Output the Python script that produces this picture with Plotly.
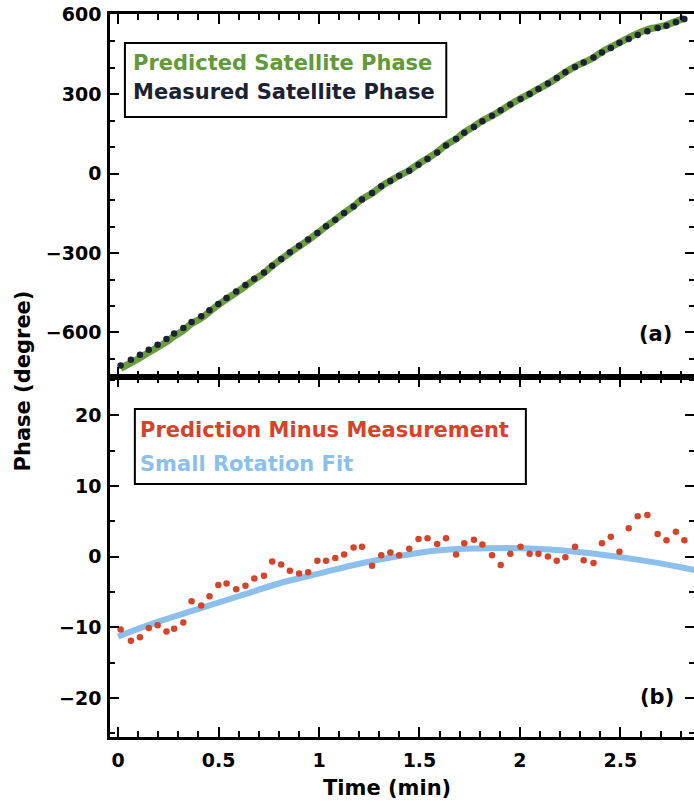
import plotly.graph_objects as go

# ---------------- data ----------------
time_min = [0.013, 0.064, 0.109, 0.153, 0.197, 0.241, 0.279, 0.325, 0.366, 0.414,
            0.455, 0.499, 0.540, 0.588, 0.634, 0.678, 0.726, 0.767, 0.812, 0.855,
            0.901, 0.946, 0.992, 1.035, 1.081, 1.125, 1.172, 1.214, 1.264, 1.310,
            1.355, 1.399, 1.449, 1.495, 1.540, 1.588, 1.632, 1.682, 1.723, 1.771,
            1.813, 1.861, 1.904, 1.952, 2.003, 2.048, 2.092, 2.139, 2.183, 2.226,
            2.274, 2.317, 2.366, 2.408, 2.452, 2.495, 2.541, 2.586, 2.634, 2.685,
            2.729, 2.776, 2.818]

measured_phase = [-725, -703, -684, -665, -646, -625, -604, -583, -560, -539,
                  -516, -492, -470, -445, -421, -397, -373, -348, -322, -297,
                  -272, -249, -224, -199, -174, -149, -124, -98, -73, -48,
                  -28, -8, 11, 34, 55, 80, 106, 131, 154, 176,
                  198, 219, 239, 261, 282, 301, 320, 340, 361, 383,
                  403, 420, 439, 458, 475, 494, 509, 524, 538, 550,
                  559, 572, 584]

residual = [-10.3, -11.9, -11.4, -10.1, -9.7, -10.6, -10.2, -9.3, -6.3, -6.9,
            -5.6, -4.0, -3.8, -4.6, -4.1, -3.1, -2.7, -0.7, -1.1, -2.0,
            -2.4, -2.2, -0.6, -0.6, -0.2, 0.3, 1.3, 1.4, -1.3, 0.2,
            0.6, 0.2, 1.1, 2.5, 2.6, 1.8, 2.6, 0.3, 1.9, 2.4,
            1.7, 0.2, -1.2, 0.4, 1.4, 0.4, 0.4, 0.0, -0.6, -0.1,
            1.4, -0.5, -0.9, 1.9, 2.8, 0.7, 4.0, 5.7, 5.9, 3.2,
            2.3, 3.5, 2.3]

predicted_phase = [m + r for m, r in zip(measured_phase, residual)]

fit_time = [0.0, 0.2, 0.4, 0.6, 0.8, 1.0, 1.2, 1.4, 1.6, 1.8, 2.0, 2.2, 2.4, 2.6, 2.8, 2.87]
fit_value = [-11.3, -9.2, -7.4, -5.6, -3.8, -2.4, -1.0, 0.1, 0.9, 1.15, 1.2, 0.9, 0.3, -0.5, -1.5, -1.9]

top_yticks = [-600, -300, 0, 300, 600]
bot_yticks = [-20, -10, 0, 10, 20]
x_ticks = [0, 0.5, 1, 1.5, 2, 2.5]
x_ticklabels = ["0", "0.5", "1", "1.5", "2", "2.5"]

names = ["Predicted Satellite Phase", "Measured Satellite Phase",
         "Prediction Minus Measurement", "Small Rotation Fit"]
colors = ["#62993a", "#1b2232", "#d4442a", "#8cbfeb"]

# ---------------- figure ----------------
W, H = 700, 804
L, R, T, B = 110, 3, 14, 67
split = 0.498

FONT = "DejaVu Sans"

fig = go.Figure()
fig.add_trace(go.Scatter(x=time_min, y=predicted_phase, mode="lines", name=names[0],
                         line=dict(color="#6c9e40", width=7, shape="spline", smoothing=1.3),
                         xaxis="x", yaxis="y", showlegend=False))
fig.add_trace(go.Scatter(x=time_min, y=measured_phase, mode="markers", name=names[1],
                         marker=dict(color=colors[1], size=6.5), xaxis="x", yaxis="y",
                         showlegend=False))
fig.add_trace(go.Scatter(x=fit_time, y=fit_value, mode="lines", name=names[3],
                         line=dict(color=colors[3], width=6, shape="spline"),
                         xaxis="x2", yaxis="y2", showlegend=False))
fig.add_trace(go.Scatter(x=time_min, y=residual, mode="markers", name=names[2],
                         marker=dict(color=colors[2], size=6.5), xaxis="x2", yaxis="y2",
                         showlegend=False))

tickfont = dict(family=FONT, size=19, color="black", weight="bold")
common = dict(showline=True, linecolor="black", linewidth=2.5, mirror="ticks",
              ticks="inside", tickwidth=2, tickcolor="black", showgrid=False,
              zeroline=False, tickfont=tickfont)

xr = [-0.04, 2.866]
fig.update_layout(
    width=W, height=H, margin=dict(l=L, r=R, t=T, b=B),
    paper_bgcolor="white", plot_bgcolor="white",
    xaxis=dict(domain=[0, 1], anchor="y", range=xr, tickvals=x_ticks,
               showticklabels=False, ticklen=10,
               minor=dict(ticks="inside", ticklen=6, tickwidth=2, tickcolor="black", dtick=0.1, tick0=0),
               **common),
    yaxis=dict(domain=[split, 1], anchor="x", range=[-768, 603], tickvals=top_yticks,
               ticklen=9, ticklabelstandoff=2,
               minor=dict(ticks="inside", ticklen=5, tickwidth=2, tickcolor="black", dtick=100, tick0=0),
               **common),
    xaxis2=dict(domain=[0, 1], anchor="y2", range=xr, tickvals=x_ticks,
                ticktext=x_ticklabels, ticklen=10, ticklabelstandoff=4,
                minor=dict(ticks="inside", ticklen=6, tickwidth=2, tickcolor="black", dtick=0.1, tick0=0),
                **common),
    yaxis2=dict(domain=[0, split], anchor="x2", range=[-25.5, 25.4], tickvals=bot_yticks,
                ticklen=9, ticklabelstandoff=2,
                minor=dict(ticks="inside", ticklen=5, tickwidth=2, tickcolor="black", dtick=5, tick0=0),
                **common),
)

pw = W - L - R
ph = H - T - B


def px(x):
    return (x - L) / pw


def py(y):
    return (H - B - y) / ph


# legend boxes
fig.add_shape(type="rect", xref="paper", yref="paper",
              x0=px(125), x1=px(448), y0=py(117), y1=py(43),
              line=dict(color="black", width=2), fillcolor="white", layer="below")
fig.add_shape(type="rect", xref="paper", yref="paper",
              x0=px(135), x1=px(528), y0=py(484), y1=py(409),
              line=dict(color="black", width=2), fillcolor="white", layer="below")


def label(text, x, y, color, size=21, xanchor="left", angle=0):
    fig.add_annotation(text=text, xref="paper", yref="paper", x=px(x), y=py(y),
                       xanchor=xanchor, yanchor="middle", showarrow=False, textangle=angle,
                       font=dict(family=FONT, size=size, color=color, weight="bold"))


label(names[0], 131, 63, colors[0])
label(names[1], 131, 92, colors[1])
label(names[2], 138, 430, colors[2])
label(names[3], 138, 464, colors[3])
label("(a)", 658, 334, "black", size=21, xanchor="center")
label("(b)", 660, 697, "black", size=21, xanchor="center")
label("Phase (degree)", 23, 381, "black", size=21, xanchor="center", angle=-90)
label("Time (min)", 388, 788, "black", size=21, xanchor="center")

fig.write_html("out.html",
               post_script="document.body.style.overflow='hidden';document.documentElement.style.overflow='hidden';")
